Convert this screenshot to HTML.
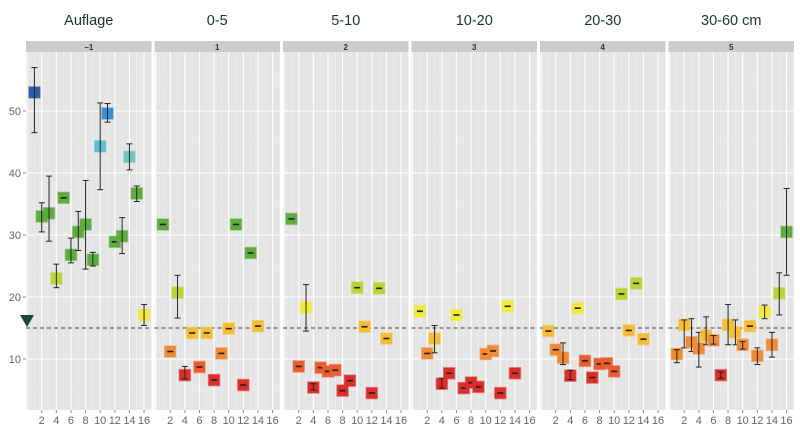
<!DOCTYPE html>
<html><head><meta charset="utf-8">
<style>
html,body{margin:0;padding:0;background:#fff;}
svg{display:block;font-family:"Liberation Sans",sans-serif;}
</style></head>
<body>
<svg id="c" width="800" height="445" xmlns="http://www.w3.org/2000/svg"></svg>
<script>
(function(){
const svg=document.getElementById('c');
let h='';
const lefts=[26,154.5,283,411.5,540,668.5], W=125.5, pTop=52, pBot=410;
const titles=['Auflage','0-5','5-10','10-20','20-30','30-60 cm'];
const strips=['\u22121','1','2','3','4','5'];
const Y=v=>421-6.2*v;
const X=(p,x)=>lefts[p]+1.1+7.31*x;
function col(v){
 if(v>51)return '#2f5ca6';
 if(v>47)return '#3a8fd0';
 if(v>43.5)return '#5cbdd0';
 if(v>40)return '#6cc6be';
 if(v>24)return '#5eac3c';
 if(v>19.5)return '#b8d536';
 if(v>15.8)return '#f0ea3c';
 if(v>13)return '#f7bd32';
 if(v>10)return '#f08a35';
 if(v>7.8)return '#eb5c30';
 return '#dc2e28';
}
const data=[
[[1,53,46.5,57],[2,33,30.5,35.2],[3,33.5,29,39.5],[4,23,21.5,25.3],[5,36],[6,26.8,25.5,29.5],[7,30.5,27.5,33.8],[8,31.7,24.5,38.8],[9,26,25,27.2],[10,44.3,37.3,51.3],[11,49.6,48.2,51.2],[12,28.9],[13,29.8,27,32.8],[14,42.6,40.5,44.7],[15,36.7,35.4,37.9],[16,17.1,15.4,18.8]],
[[1,31.7],[2,11.2],[3,20.7,16.6,23.5],[4,7.4,6.8,8.8],[5,14.2],[6,8.7],[7,14.2],[8,6.6],[9,10.9],[10,14.9],[11,31.7],[12,5.8],[13,27.1],[14,15.3]],
[[1,32.6],[2,8.8],[3,18.3,14.5,22],[4,5.4,5.0,6.0],[5,8.6],[6,8.0],[7,8.2],[8,4.9],[9,6.5],[10,21.5],[11,15.2],[12,4.5],[13,21.4],[14,13.3]],
[[1,17.7],[2,10.9],[3,13.3,11,15.4],[4,6.0,5.3,6.9],[5,7.7],[6,17.1],[7,5.3],[8,6.2],[9,5.5],[10,10.8],[11,11.3],[12,4.5],[13,18.5],[14,7.7]],
[[1,14.5],[2,11.5],[3,10.2,9.1,12.6],[4,7.3,6.7,8.2],[5,18.2],[6,9.7],[7,7.0],[8,9.2],[9,9.3],[10,8.0],[11,20.5],[12,14.6],[13,22.2],[14,13.2]],
[[1,10.8,9.4,11.5],[2,15.5,11.8,16.3],[3,12.7,11.2,16.5],[4,11.7,8.7,14.3],[5,13.8,12.3,16.8],[6,13.0,12.4,13.8],[7,7.4,6.9,7.9],[8,15.5,12.3,18.8],[9,14.3,12.3,16.3],[10,12.3,11.6,12.8],[11,15.3],[12,10.5,9.1,11.8],[13,17.6,16.5,18.7],[14,12.3,10.3,14.3],[15,20.6,17.1,23.9],[16,30.5,23.5,37.5]]
];
for(let p=0;p<6;p++){
 const L=lefts[p];
 h+=`<text x="${L+W/2}" y="25" font-size="14.5" fill="#1b3526" text-anchor="middle">${titles[p]}</text>`;
 h+=`<rect x="${L}" y="41" width="${W}" height="11" fill="#cccccc"/>`;
 h+=`<text x="${L+W/2}" y="50" font-size="8" font-weight="bold" fill="#333" text-anchor="middle">${strips[p]}</text>`;
 h+=`<rect x="${L}" y="${pTop}" width="${W}" height="${pBot-pTop}" fill="#e5e5e5"/>`;
 for(let v=5;v<=55;v+=5){const y=Y(v);h+=`<line x1="${L}" x2="${L+W}" y1="${y}" y2="${y}" stroke="${v%10?'#f0f0f0':'#ffffff'}" stroke-width="${v%10?0.6:1.1}"/>`;}
 for(let x=0;x<=17;x++){const xx=X(p,x);if(xx<L||xx>L+W)continue;h+=`<line x1="${xx}" x2="${xx}" y1="${pTop}" y2="${pBot}" stroke="${x%2?'#f0f0f0':'#ffffff'}" stroke-width="${x%2?0.6:1.1}"/>`;}
 for(let x=2;x<=16;x+=2){const xx=X(p,x);h+=`<line x1="${xx}" x2="${xx}" y1="${pBot}" y2="${pBot+3}" stroke="#888"/><text x="${xx}" y="424" font-size="11" fill="#666" text-anchor="middle">${x}</text>`;}
 h+=`<line x1="${L}" x2="${L+W}" y1="${Y(15)}" y2="${Y(15)}" stroke="#444" stroke-dasharray="4,3" stroke-width="1"/>`;
 for(const d of data[p]){
  const x=d[0],v=d[1],lo=d[2],hi=d[3]; const xx=X(p,x), y=Y(v);
  h+=`<rect x="${xx-5.5}" y="${y-5.5}" width="11" height="11" fill="${col(v)}" stroke="${col(v)}" stroke-opacity="0.5" stroke-width="1.5"/>`;
  const l=lo===undefined?v-0.05:lo, u=hi===undefined?v+0.05:hi;
  h+=`<line x1="${xx}" x2="${xx}" y1="${Y(l)}" y2="${Y(u)}" stroke="#222" stroke-width="1"/>`;
  h+=`<line x1="${xx-3}" x2="${xx+3}" y1="${Y(l)}" y2="${Y(l)}" stroke="#222" stroke-width="1"/>`;
  h+=`<line x1="${xx-3}" x2="${xx+3}" y1="${Y(u)}" y2="${Y(u)}" stroke="#222" stroke-width="1"/>`;
 }
}
for(const v of [10,20,30,40,50]){const y=Y(v);h+=`<line x1="23" x2="26" y1="${y}" y2="${y}" stroke="#888"/><text x="21" y="${y+4}" font-size="11" fill="#666" text-anchor="end">${v}</text>`;}
h+=`<polygon points="20,315 34,315 27,327" fill="#174a32"/>`;
svg.innerHTML=h;
})();
</script>
</body></html>
